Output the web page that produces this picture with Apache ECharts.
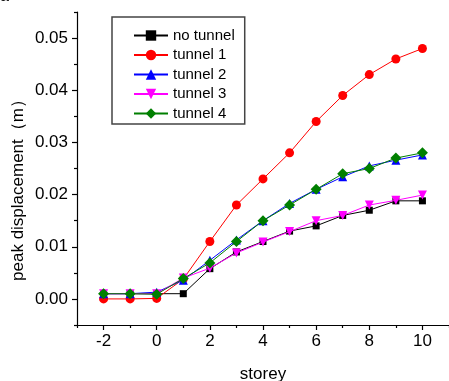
<!DOCTYPE html>
<html>
<head>
<meta charset="utf-8">
<style>
  html, body { margin: 0; padding: 0; background: #fff; }
  #chart { width: 449px; height: 381px; }
</style>
<script src="https://cdn.jsdelivr.net/npm/echarts@6/dist/echarts.min.js"></script>
</head>
<body>
<div id="chart"></div>
<script>
// Storey positions (x) and peak displacement (m) for each case
const storeys = [-2, -1, 0, 1, 2, 3, 4, 5, 6, 7, 8, 9, 10];
const noTunnel = [0.001, 0.001, 0.001, 0.001, 0.0058, 0.009, 0.011, 0.013, 0.014, 0.016, 0.017, 0.0188, 0.0188];
const tunnel1  = [0.0, 0.0, 0.0001, 0.0038, 0.011, 0.018, 0.023, 0.028, 0.034, 0.039, 0.043, 0.046, 0.048];
const tunnel2  = [0.001, 0.001, 0.0013, 0.0036, 0.0074, 0.0113, 0.015, 0.0183, 0.021, 0.0234, 0.0255, 0.0266, 0.0276];
const tunnel3  = [0.001, 0.001, 0.001, 0.004, 0.0059, 0.0088, 0.0109, 0.0129, 0.015, 0.016, 0.018, 0.0189, 0.0199];
const tunnel4  = [0.001, 0.001, 0.0009, 0.0039, 0.0069, 0.011, 0.015, 0.018, 0.021, 0.024, 0.025, 0.027, 0.028];

const seriesNames = ['no tunnel', 'tunnel 1', 'tunnel 2', 'tunnel 3', 'tunnel 4'];

// Tick positions
const xMajorTicks = [-2, 0, 2, 4, 6, 8, 10];
const xMinorTicks = [-3, -1, 1, 3, 5, 7, 9, 11];
const yMajorTicks = [0, 0.01, 0.02, 0.03, 0.04, 0.05];
const yMinorTicks = [-0.005, 0.005, 0.015, 0.025, 0.035, 0.045, 0.055];

const FONT = '"Liberation Sans", Arial, sans-serif';

function pairs(ys) { return storeys.map((x, i) => [x, ys[i]]); }

const styles = [
  { color: '#000000', symbol: 'rect', size: 7, rotate: 0 },
  { color: '#ff0000', symbol: 'circle', size: 9, rotate: 0 },
  { color: '#0000ff', symbol: 'triangle', size: 9, rotate: 0 },
  { color: '#ff00ff', symbol: 'triangle', size: 9, rotate: 180 },
  { color: '#007f00', symbol: 'diamond', size: 11, rotate: 0 }
];
const values = [noTunnel, tunnel1, tunnel2, tunnel3, tunnel4];

const chart = echarts.init(document.getElementById('chart'), null, { renderer: 'canvas' });

const axisLineStyle = { color: '#000', width: 1.2 };

chart.setOption({
  animation: false,
  backgroundColor: '#fff',
  grid: { left: 77, top: 12, right: 0, bottom: 56, containLabel: false },
  legend: {
    data: seriesNames,
    orient: 'vertical',
    left: 112,
    top: 17,
    padding: [11, 10, 3, 21],
    itemWidth: 34,
    itemHeight: 13,
    itemGap: 4.5,
    borderColor: '#444',
    borderWidth: 1.5,
    backgroundColor: '#fff',
    textStyle: { fontFamily: FONT, fontSize: 15, color: '#000', lineHeight: 15, padding: [0, 0, 0, 0] }
  },
  xAxis: [
    {
      type: 'value', min: -3, max: 11,
      axisLine: { show: true, onZero: false, lineStyle: axisLineStyle },
      axisTick: { show: true, inside: false, length: 5, customValues: xMajorTicks, lineStyle: axisLineStyle },
      axisLabel: { customValues: xMajorTicks, fontFamily: FONT, fontSize: 17, color: '#000', margin: 8 },
      splitLine: { show: false }
    },
    {
      type: 'value', min: -3, max: 11, position: 'bottom',
      axisLine: { show: false, onZero: false },
      axisTick: { show: true, inside: false, length: 3, customValues: xMinorTicks, lineStyle: axisLineStyle },
      axisLabel: { show: false },
      splitLine: { show: false }
    }
  ],
  yAxis: [
    {
      type: 'value', min: -0.005, max: 0.055,
      axisLine: { show: true, onZero: false, lineStyle: axisLineStyle },
      axisTick: { show: true, inside: false, length: 5, customValues: yMajorTicks, lineStyle: axisLineStyle },
      axisLabel: {
        customValues: yMajorTicks,
        formatter: v => v.toFixed(2),
        fontFamily: FONT, fontSize: 17, color: '#000', margin: 9
      },
      splitLine: { show: false }
    },
    {
      type: 'value', min: -0.005, max: 0.055, position: 'left',
      axisLine: { show: false, onZero: false },
      axisTick: { show: true, inside: false, length: 3, customValues: yMinorTicks, lineStyle: axisLineStyle },
      axisLabel: { show: false },
      splitLine: { show: false }
    }
  ],
  series: seriesNames.map((name, i) => ({
    name,
    type: 'line',
    xAxisIndex: 0,
    yAxisIndex: 0,
    data: pairs(values[i]),
    symbol: styles[i].symbol,
    symbolSize: styles[i].size,
    symbolRotate: styles[i].rotate,
    showAllSymbol: true,
    color: styles[i].color,
    lineStyle: { color: styles[i].color, width: 1 },
    itemStyle: { color: styles[i].color },
    z: 2 + i
  })),
  graphic: [
    {
      type: 'text', left: 0, top: -11,
      style: { text: 'a', font: '16px ' + FONT, fill: '#000' }
    },
    {
      type: 'text', x: 18, y: 186, rotation: Math.PI / 2,
      style: {
        text: 'peak displacement（m）',
        font: '17px ' + FONT,
        fill: '#000', align: 'center', verticalAlign: 'middle'
      }
    },
    {
      type: 'text', x: 263, y: 374,
      style: {
        text: 'storey',
        font: '17px ' + FONT,
        fill: '#000', align: 'center', verticalAlign: 'middle'
      }
    }
  ]
});
</script>
</body>
</html>
